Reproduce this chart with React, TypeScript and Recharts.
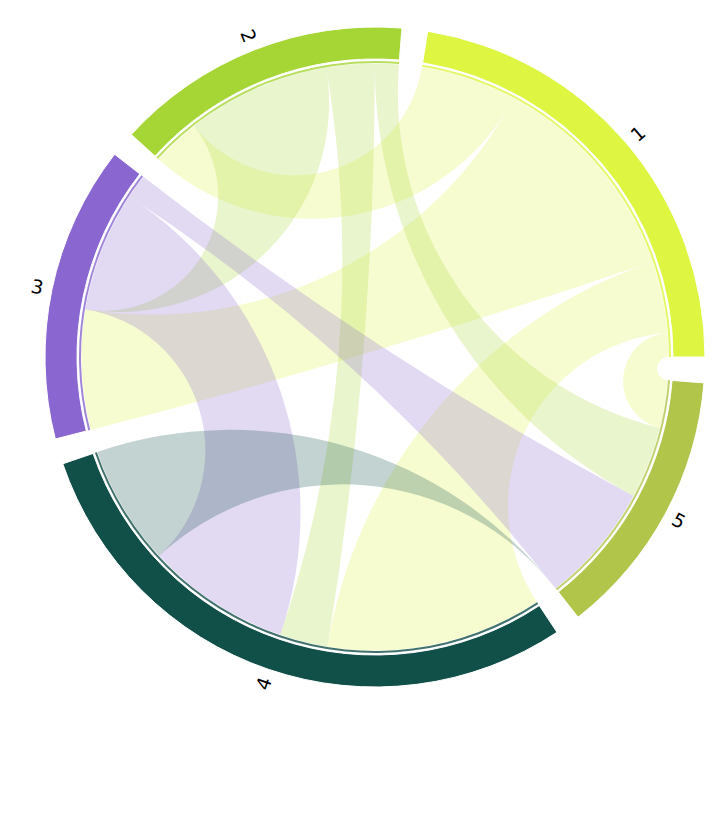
import { Cell, Customized, Pie, PieChart } from "recharts";

const labels = ["1", "2", "3", "4", "5"];
const colors = ["#DEF542", "#A6D636", "#8A66D0", "#114F49", "#B1C54B"];

// flow from group i towards group j (row = source)
const from1 = [0, 4, 9, 3, 1];
const from2 = [2, 0, 6, 2, 1];
const from3 = [5, 0, 0, 5, 1];
const from4 = [9, 2, 6, 0, 5];
const from5 = [2, 3, 5, 0, 0];
const flows = [from1, from2, from3, from4, from5];

const W = 712;
const H = 820;
const M = 5; // PieChart default margin, added to cx/cy by recharts
const CX = 362;
const CY = 344;
const R = 293.5; // where ribbons end
const GAP = 4.5; // degrees between groups

const totals = flows.map((row) => row.reduce((a, b) => a + b, 0));
const groupData = labels.map((name, i) => ({ name, value: totals[i] }));

// same arithmetic as the Pie below (start 0, ccw, paddingAngle GAP)
const unit = (360 - GAP * labels.length) / totals.reduce((a, b) => a + b, 0);
const groupSpans: number[][] = [];
let acc = 0;
totals.forEach((t) => {
  groupSpans.push([acc, acc + t * unit]);
  acc += t * unit + GAP;
});

// end of ribbon i->j on group i, in degrees clockwise from 12 o'clock
function endOf(i: number, j: number) {
  let c = 90 - groupSpans[i][1];
  for (let k = 0; k < j; k++) c += flows[i][k] * unit;
  return [c, c + flows[i][j] * unit];
}

function pt(c: number, r: number) {
  const a = (c * Math.PI) / 180;
  return [CX + M + r * Math.sin(a), CY + M - r * Math.cos(a)];
}

function rim(from: number, to: number) {
  const [x, y] = pt(to, R);
  if (to - from < 0.001) return `L${x},${y}`;
  return `A${R},${R} 0 ${to - from > 180 ? 1 : 0} 1 ${x},${y}`;
}

// edge as a circle arc meeting the rim at right angles
function edge(from: number, to: number) {
  const d = (((to - from) % 360) + 360) % 360;
  const sep = d > 180 ? 360 - d : d;
  const [x, y] = pt(to, R);
  if (sep < 0.01 || sep > 179.5) return `L${x},${y}`;
  const rad = R * Math.tan(((sep / 2) * Math.PI) / 180);
  return `A${rad},${rad} 0 0 ${d < 180 ? 0 : 1} ${x},${y}`;
}

function Ribbons() {
  const out = [];
  for (let i = 0; i < flows.length; i++) {
    for (let j = i + 1; j < flows.length; j++) {
      if (flows[i][j] + flows[j][i] === 0) continue;
      const [s0, s1] = endOf(i, j);
      const [t0, t1] = endOf(j, i);
      const [x0, y0] = pt(s0, R);
      const d =
        `M${x0},${y0}` + rim(s0, s1) + edge(s1, t0) + rim(t0, t1) + edge(t1, s0) + "Z";
      out.push(<path key={`${i}-${j}`} d={d} fill={colors[i]} fillOpacity={0.25} />);
    }
  }
  return <g>{out}</g>;
}

const renderLabel = (props: any) => {
  const { cx, cy, midAngle, index } = props;
  const c = (((90 - midAngle) % 360) + 360) % 360;
  const a = (c * Math.PI) / 180;
  const x = cx + 345 * Math.sin(a);
  const y = cy - 345 * Math.cos(a);
  const rot = c < 180 ? c - 90 : c - 270;
  return (
    <text
      x={x}
      y={y}
      transform={`rotate(${rot} ${x} ${y})`}
      textAnchor="middle"
      dominantBaseline="central"
      fontSize={19}
      fontFamily="DejaVu Sans"
      fill="#000"
    >
      {labels[index]}
    </text>
  );
};

export default function App() {
  return (
    <PieChart width={W} height={H}>
      <Customized component={Ribbons} />
      <Pie
        data={groupData}
        dataKey="value"
        cx={CX}
        cy={CY}
        innerRadius={294}
        outerRadius={296}
        startAngle={0}
        endAngle={360}
        paddingAngle={GAP}
        stroke="none"
        isAnimationActive={false}
      >
        {groupData.map((g, i) => (
          <Cell key={g.name} fill={colors[i]} fillOpacity={0.8} />
        ))}
      </Pie>
      <Pie
        data={groupData}
        dataKey="value"
        cx={CX}
        cy={CY}
        innerRadius={298}
        outerRadius={330}
        startAngle={0}
        endAngle={360}
        paddingAngle={GAP}
        stroke="#fff"
        strokeWidth={1}
        label={renderLabel}
        labelLine={false}
        isAnimationActive={false}
      >
        {groupData.map((g, i) => (
          <Cell key={g.name} fill={colors[i]} />
        ))}
      </Pie>
    </PieChart>
  );
}
